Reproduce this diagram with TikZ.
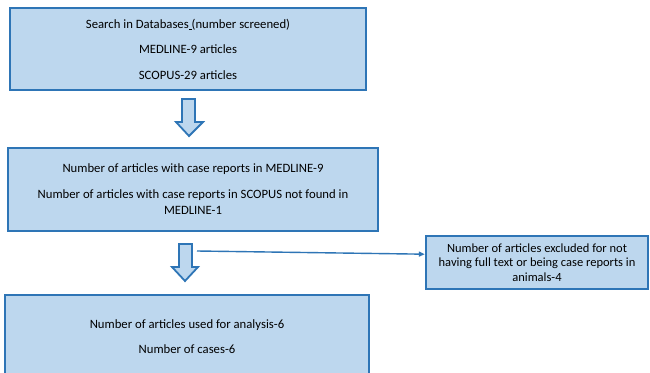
\documentclass[tikz,border=0pt]{standalone}
\usepackage{fontspec}
\setmainfont{Carlito}
\usetikzlibrary{arrows.meta,calc}
\definecolor{boxfill}{RGB}{189,215,238}
\definecolor{boxline}{RGB}{46,117,182}
\tikzset{
  box/.style={draw=boxline, fill=boxfill, line width=2.4pt, inner sep=0pt, align=center,
              font=\fontsize{12.7}{16}\selectfont, text=black},
  blockarrow/.style={draw=boxline, fill=boxfill, line width=1.8pt, line join=miter},
  thinarrow/.style={draw=boxline, line width=1.4pt, -{Triangle[length=6pt,width=5pt]}},
}
\begin{document}
\begin{tikzpicture}[x=1pt,y=-1pt]
\useasboundingbox (0,0) rectangle (650,372);
\clip (0,0) rectangle (650,372);
\fill[white] (0,0) rectangle (650,372);

\node[box, minimum width=356pt, minimum height=82pt] (b1) at (188,49)
  {Search in Databases\underline{\ }(number screened)\\[9.5pt]
   MEDLINE-9 articles\\[9.5pt]
   SCOPUS-29 articles};

\node[box, minimum width=370pt, minimum height=83pt] (b2) at (193,189.5)
  {Number of articles with case reports in MEDLINE-9\\[10pt]
   Number of articles with case reports in SCOPUS not found in\\
   MEDLINE-1};

\node[box, minimum width=222pt, minimum height=53pt, font=\fontsize{12.5}{14.5}\selectfont] (b3) at (537,262.5)
  {Number of articles excluded for not\\
   having full text or being case reports in\\
   animals-4};

\node[box, minimum width=364pt, minimum height=83pt] (b4) at (187,336.5)
  {Number of articles used for analysis-6\\[9pt]
   Number of cases-6};

% block arrows
\draw[blockarrow] (182,99) -- (195,99) -- (195,122) -- (203,122) -- (189,136)
  -- (176,122) -- (182,122) -- cycle;
\draw[blockarrow] (179,244) -- (192,244) -- (192,267) -- (198,267) -- (185,281)
  -- (172,267) -- (179,267) -- cycle;

% thin connector
\coordinate (s) at (197,251);
\draw[thinarrow] (s) -- ($(b3.north west)!0.35!(b3.south west)$);
\end{tikzpicture}
\end{document}
